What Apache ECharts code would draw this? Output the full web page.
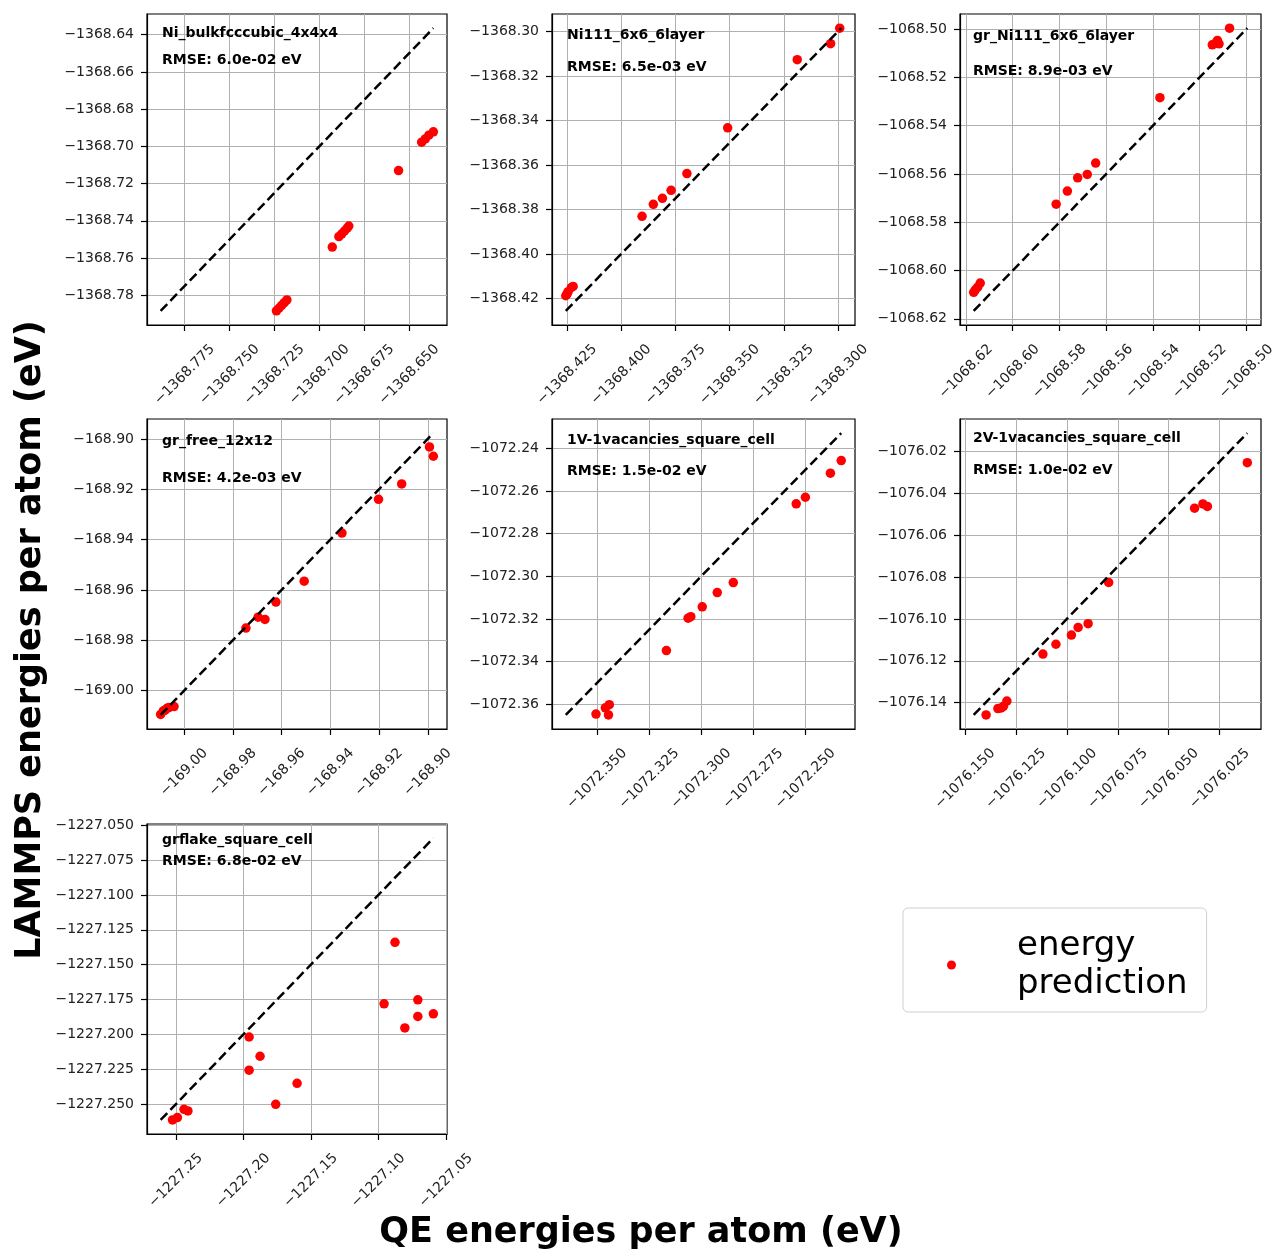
<!DOCTYPE html>
<html><head><meta charset="utf-8">
<script src="https://cdn.jsdelivr.net/npm/echarts@6/dist/echarts.min.js"></script>
<style>html,body{margin:0;padding:0;background:#fff}#chart{width:1273px;height:1254px}</style>
</head><body><div id="chart"></div>
<script>
// ---------------- data ----------------
const panelNames = ['Ni_bulkfcccubic_4x4x4', 'Ni111_6x6_6layer', 'gr_Ni111_6x6_6layer', 'gr_free_12x12',
  '1V-1vacancies_square_cell', '2V-1vacancies_square_cell', 'grflake_square_cell'];
const rmseLabels = ['RMSE: 6.0e-02 eV', 'RMSE: 6.5e-03 eV', 'RMSE: 8.9e-03 eV', 'RMSE: 4.2e-03 eV',
  'RMSE: 1.5e-02 eV', 'RMSE: 1.0e-02 eV', 'RMSE: 6.8e-02 eV'];
const legendLabel = 'energy\nprediction';
const xAxisTitle = 'QE energies per atom (eV)';
const yAxisTitle = 'LAMMPS energies per atom (eV)';

const qe1 = [-1368.7239,-1368.7225,-1368.7210,-1368.7195,-1368.7181,-1368.6928,-1368.6891,-1368.6875,-1368.6860,-1368.6845,-1368.6836,-1368.6559,-1368.6430,-1368.6410,-1368.6390,-1368.6365];
const lammps1 = [-1368.7884,-1368.7870,-1368.7855,-1368.7840,-1368.7825,-1368.7541,-1368.7485,-1368.7470,-1368.7455,-1368.7440,-1368.7428,-1368.7130,-1368.6978,-1368.6960,-1368.6940,-1368.6922];

const qe2 = [-1368.4256,-1368.4250,-1368.4245,-1368.4230,-1368.4222,-1368.3904,-1368.3852,-1368.3810,-1368.3770,-1368.3697,-1368.3509,-1368.3188,-1368.3034,-1368.2992];
const lammps2 = [-1368.4188,-1368.4180,-1368.4170,-1368.4151,-1368.4146,-1368.3831,-1368.3777,-1368.3750,-1368.3714,-1368.3639,-1368.3433,-1368.3127,-1368.3055,-1368.2985];

const qe3 = [-1068.6167,-1068.6160,-1068.6150,-1068.6139,-1068.5814,-1068.5766,-1068.5722,-1068.5681,-1068.5645,-1068.5370,-1068.5146,-1068.5132,-1068.5124,-1068.5117,-1068.5072];
const lammps3 = [-1068.6090,-1068.6080,-1068.6069,-1068.6052,-1068.5725,-1068.5671,-1068.5616,-1068.5602,-1068.5555,-1068.5284,-1068.5065,-1068.5058,-1068.5047,-1068.5061,-1068.4996];

const qe4 = [-169.0096,-169.0085,-169.0078,-169.0070,-169.0062,-169.0041,-168.9746,-168.9696,-168.9668,-168.9623,-168.9507,-168.9352,-168.9202,-168.9107,-168.8993,-168.8977];
const lammps4 = [-169.0094,-169.0080,-169.0077,-169.0070,-169.0067,-169.0063,-168.9751,-168.9708,-168.9717,-168.9648,-168.9565,-168.9374,-168.9240,-168.9179,-168.9032,-168.9069];

const qe5 = [-1072.3505,-1072.3460,-1072.3441,-1072.3445,-1072.3167,-1072.3063,-1072.3050,-1072.2995,-1072.2923,-1072.2846,-1072.2544,-1072.2500,-1072.2380,-1072.2328];
const lammps5 = [-1072.3646,-1072.3617,-1072.3602,-1072.3650,-1072.3348,-1072.3196,-1072.3189,-1072.3143,-1072.3076,-1072.3029,-1072.2660,-1072.2629,-1072.2516,-1072.2457];

const qe6 = [-1076.1397,-1076.1339,-1076.1323,-1076.1312,-1076.1295,-1076.1118,-1076.1054,-1076.0978,-1076.0945,-1076.0896,-1076.0795,-1076.0373,-1076.0332,-1076.0310,-1076.0114];
const lammps6 = [-1076.1458,-1076.1428,-1076.1425,-1076.1417,-1076.1392,-1076.1168,-1076.1121,-1076.1077,-1076.1041,-1076.1023,-1076.0826,-1076.0472,-1076.0452,-1076.0464,-1076.0255];

const qe7 = [-1227.2524,-1227.2488,-1227.2439,-1227.2410,-1227.1957,-1227.1876,-1227.1957,-1227.1760,-1227.1602,-1227.0958,-1227.0877,-1227.0804,-1227.0708,-1227.0708,-1227.0593];
const lammps7 = [-1227.2612,-1227.2595,-1227.2536,-1227.2548,-1227.2018,-1227.2156,-1227.2256,-1227.2500,-1227.2350,-1227.1780,-1227.1340,-1227.1953,-1227.1752,-1227.1871,-1227.1852];

const xTickLabels1 = ['−1368.775','−1368.750','−1368.725','−1368.700','−1368.675','−1368.650'];
const yTickLabels1 = ['−1368.78','−1368.76','−1368.74','−1368.72','−1368.70','−1368.68','−1368.66','−1368.64'];
const xTickLabels2 = ['−1368.425','−1368.400','−1368.375','−1368.350','−1368.325','−1368.300'];
const yTickLabels2 = ['−1368.42','−1368.40','−1368.38','−1368.36','−1368.34','−1368.32','−1368.30'];
const xTickLabels3 = ['−1068.62','−1068.60','−1068.58','−1068.56','−1068.54','−1068.52','−1068.50'];
const yTickLabels3 = ['−1068.62','−1068.60','−1068.58','−1068.56','−1068.54','−1068.52','−1068.50'];
const xTickLabels4 = ['−169.00','−168.98','−168.96','−168.94','−168.92','−168.90'];
const yTickLabels4 = ['−169.00','−168.98','−168.96','−168.94','−168.92','−168.90'];
const xTickLabels5 = ['−1072.350','−1072.325','−1072.300','−1072.275','−1072.250'];
const yTickLabels5 = ['−1072.36','−1072.34','−1072.32','−1072.30','−1072.28','−1072.26','−1072.24'];
const xTickLabels6 = ['−1076.150','−1076.125','−1076.100','−1076.075','−1076.050','−1076.025'];
const yTickLabels6 = ['−1076.14','−1076.12','−1076.10','−1076.08','−1076.06','−1076.04','−1076.02'];
const xTickLabels7 = ['−1227.25','−1227.20','−1227.15','−1227.10','−1227.05'];
const yTickLabels7 = ['−1227.250','−1227.225','−1227.200','−1227.175','−1227.150','−1227.125','−1227.100','−1227.075','−1227.050'];

// ---------------- build ----------------
const panels = [
  {qe: qe1, lm: lammps1, xt: xTickLabels1, yt: yTickLabels1},
  {qe: qe2, lm: lammps2, xt: xTickLabels2, yt: yTickLabels2},
  {qe: qe3, lm: lammps3, xt: xTickLabels3, yt: yTickLabels3},
  {qe: qe4, lm: lammps4, xt: xTickLabels4, yt: yTickLabels4},
  {qe: qe5, lm: lammps5, xt: xTickLabels5, yt: yTickLabels5},
  {qe: qe6, lm: lammps6, xt: xTickLabels6, yt: yTickLabels6},
  {qe: qe7, lm: lammps7, xt: xTickLabels7, yt: yTickLabels7}
];
const layout = [
  {left:147, top:14,  width:300, height:311, tx:162, ty1:33,  ty2:60},
  {left:552, top:14,  width:303, height:311, tx:567, ty1:35,  ty2:67},
  {left:960, top:14,  width:301, height:311, tx:973, ty1:36,  ty2:71},
  {left:147, top:419, width:300, height:310, tx:162, ty1:441, ty2:478},
  {left:552, top:419, width:303, height:310, tx:567, ty1:440, ty2:471},
  {left:960, top:419, width:301, height:310, tx:973, ty1:438, ty2:470},
  {left:147, top:824, width:300, height:310, tx:162, ty1:840, ty2:861}
];

const parseLabel = s => parseFloat(s.replace('−', '-'));
const FONT = '"DejaVu Sans", sans-serif';
const cv = document.createElement('canvas').getContext('2d');
cv.font = '14px "DejaVu Sans"';
const textW = s => cv.measureText(s).width;

function labelFmt(labels) {
  const vals = labels.map(parseLabel);
  return v => {
    for (let i = 0; i < vals.length; i++) if (Math.abs(vals[i] - v) < 1e-6) return labels[i];
    return '';
  };
}

const grids = [], xAxes = [], yAxes = [], series = [], graphics = [];
panels.forEach((p, i) => {
  const L = layout[i];
  const all = p.qe.concat(p.lm);
  const lo = Math.min(...all), hi = Math.max(...all);
  const pad = 0.05 * (hi - lo);
  const xv = p.xt.map(parseLabel), yv = p.yt.map(parseLabel);
  grids.push({left: L.left, top: L.top, width: L.width, height: L.height, show: true,
    borderColor: '#000', borderWidth: 1.2, backgroundColor: '#fff', containLabel: false, outerBoundsMode: 'none'});
  const maxW = Math.max(...p.xt.map(textW));
  const common = {
    type: 'value', gridIndex: i, min: lo - pad, max: hi + pad,
    axisLine: {show: true, onZero: false, lineStyle: {color: '#000', width: 1.2}},
    splitLine: {show: true, lineStyle: {color: '#b0b0b0', width: 1}},
  };
  xAxes.push(Object.assign({}, common, {
    axisTick: {show: true, length: 6, lineStyle: {color: '#000', width: 1.2}, customValues: xv},
    axisLabel: {customValues: xv, formatter: labelFmt(p.xt), rotate: 45, align: 'center', verticalAlign: 'middle',
      margin: 17 + (maxW + 14) * 0.3536, fontSize: 14, fontFamily: FONT, color: '#222'}
  }));
  yAxes.push(Object.assign({}, common, {
    axisTick: {show: true, length: 6, lineStyle: {color: '#000', width: 1.2}, customValues: yv},
    axisLabel: {customValues: yv, formatter: labelFmt(p.yt), margin: 13, fontSize: 14, fontFamily: FONT, color: '#222'}
  }));
  series.push({type: 'scatter', name: legendLabel, xAxisIndex: i, yAxisIndex: i,
    data: p.qe.map((x, k) => [x, p.lm[k]]), symbol: 'circle', symbolSize: 9.5,
    itemStyle: {color: '#ff0000', opacity: 1}, z: 2, silent: true});
  series.push({type: 'line', name: 'y = x', xAxisIndex: i, yAxisIndex: i,
    data: [[lo, lo], [hi, hi]], showSymbol: false, symbol: 'none', silent: true,
    lineStyle: {color: '#000', width: 2.5, type: [9.5, 4.5]}, z: 3});
  graphics.push({type: 'text', x: L.tx, y: L.ty1, z: 10,
    style: {text: panelNames[i], font: 'bold 14px ' + FONT, fill: '#000', verticalAlign: 'middle'}});
  graphics.push({type: 'text', x: L.tx, y: L.ty2, z: 10,
    style: {text: rmseLabels[i], font: 'bold 14px ' + FONT, fill: '#000', verticalAlign: 'middle'}});
});

graphics.push({type: 'text', x: 641, y: 1233, z: 10,
  style: {text: xAxisTitle, font: 'bold 35px ' + FONT, fill: '#000', align: 'center', verticalAlign: 'middle'}});
graphics.push({type: 'text', x: 31, y: 640, rotation: Math.PI / 2, z: 10,
  style: {text: yAxisTitle, font: 'bold 35px ' + FONT, fill: '#000', align: 'center', verticalAlign: 'middle'}});

const chart = echarts.init(document.getElementById('chart'), null, {renderer: 'canvas'});
chart.setOption({
  animation: false,
  backgroundColor: '#fff',
  grid: grids, xAxis: xAxes, yAxis: yAxes, series: series,
  legend: {show: true, data: [legendLabel], left: 903, top: 908, orient: 'vertical', icon: 'circle',
    itemWidth: 9, itemHeight: 9, selectedMode: false, backgroundColor: '#fff', borderColor: '#d0d0d0',
    borderWidth: 1, borderRadius: 5, padding: [13, 19, 3, 44],
    textStyle: {fontSize: 34, fontFamily: FONT, color: '#000', lineHeight: 38, padding: [0, 0, 12, 56]}},
  graphic: graphics
});
</script></body></html>
